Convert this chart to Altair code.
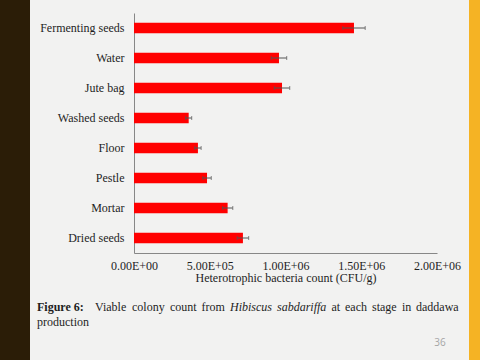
import altair as alt
import pandas as pd

# ---- data ----
stages = ["Fermenting seeds", "Water", "Jute bag", "Washed seeds",
          "Floor", "Pestle", "Mortar", "Dried seeds"]
counts = [1.452e6, 0.957e6, 0.977e6, 0.361e6, 0.422e6, 0.482e6, 0.618e6, 0.719e6]
errors = [0.074e6, 0.051e6, 0.051e6, 0.020e6, 0.021e6, 0.028e6, 0.034e6, 0.038e6]
tick_values = [0, 500000, 1000000, 1500000, 2000000]
tick_labels = ["0.00E+00", "5.00E+05", "1.00E+06", "1.50E+06", "2.00E+06"]
x_title = "Heterotrophic bacteria count (CFU/g)"
caption_line1 = ["Figure 6:", "Viable", "colony", "count", "from", "Hibiscus",
                 "sabdariffa", "at", "each", "stage", "in", "daddawa"]
caption_line2 = ["production"]
page_number = "36"

df = pd.DataFrame({"stage": stages, "count": counts, "err": errors})

SERIF = "Liberation Serif"
BG = "#F2F2F1"
W, H = 303, 240
LEFT, TOP = 134, 13

label_expr = "[" + ",".join(f"'{t}'" for t in tick_labels) + "][round(datum.value/500000)]"

x_enc = alt.X("count:Q",
              scale=alt.Scale(domain=[0, 2000000], nice=False, zero=True),
              axis=alt.Axis(values=tick_values, labelExpr=label_expr, title=x_title,
                            grid=False, ticks=False, tickSize=0, labelPadding=7,
                            titlePadding=1, domainColor="#878787", domainWidth=1,
                            labelFont=SERIF, labelFontSize=12, labelColor="#1e1e1e",
                            titleFont=SERIF, titleFontSize=12, titleFontWeight="normal",
                            titleColor="#1e1e1e", labelFlush=False, labelOverlap=False))
y_enc = alt.Y("stage:N", sort=stages,
              scale=alt.Scale(paddingInner=0, paddingOuter=0),
              axis=alt.Axis(title=None, ticks=False, tickSize=0, labelPadding=10,
                            domainColor="#878787", domainWidth=1, grid=False,
                            labelFont=SERIF, labelFontSize=12, labelColor="#1e1e1e"))

base = alt.Chart(df)
bars = base.mark_bar(color="#FF0000", size=10.5).encode(x=x_enc, y=y_enc)

err = base.transform_calculate(lo="datum.count - datum.err", hi="datum.count + datum.err")
err_rule = err.mark_rule(color="#555555", strokeWidth=1).encode(
    x="lo:Q", x2="hi:Q", y=alt.Y("stage:N", sort=stages))
cap_lo = err.mark_tick(color="#555555", size=4, thickness=1, orient="vertical").encode(
    x="lo:Q", y=alt.Y("stage:N", sort=stages))
cap_hi = err.mark_tick(color="#555555", size=4, thickness=1, orient="vertical").encode(
    x="hi:Q", y=alt.Y("stage:N", sort=stages))

one = alt.Chart(pd.DataFrame({"k": [0]}))

# decorative slide frame
left_strip = one.mark_rect(color="#2B1D07").encode(
    x=alt.value(-LEFT), x2=alt.value(30 - LEFT), y=alt.value(-TOP), y2=alt.value(360 - TOP))
right_strip = one.mark_rect(color="#F5B324").encode(
    x=alt.value(469 - LEFT), x2=alt.value(480 - LEFT), y=alt.value(-TOP), y2=alt.value(360 - TOP))


def txt(s, x, y, weight="normal", style="normal", align="left", font=SERIF, size=12, color="#1e1e1e"):
    return one.mark_text(align=align, baseline="middle", font=font, fontSize=size,
                         fontWeight=weight, fontStyle=style, color=color).encode(
        x=alt.value(x - LEFT), y=alt.value(y - TOP), text=alt.value(s))


# justified first caption line (left edges of words, in page pixels)
line1_x = [37, 95, 132, 170, 201.5, 230, 277, 331.5, 345, 372, 402, 416]
captions = []
for word, xx in zip(caption_line1, line1_x):
    if word.startswith("Figure"):
        captions.append(txt(word, xx, 307, weight="bold"))
    elif word in ("Hibiscus", "sabdariffa"):
        captions.append(txt(word, xx, 307, style="italic"))
    else:
        captions.append(txt(word, xx, 307))
captions.append(txt(caption_line2[0], 37, 322))
page = txt(page_number, 440, 343, align="center", font="Open Sans", size=10, color="#A5A5A5")

chart = alt.layer(left_strip, right_strip, bars, err_rule, cap_lo, cap_hi, *captions, page).properties(
    width=W, height=H,
    padding={"left": LEFT, "top": TOP, "right": 480 - LEFT - W, "bottom": 360 - TOP - H},
    autosize=alt.AutoSizeParams(type="none"),
    background=BG,
).configure_view(stroke=None)

chart.save("out.html", embed_options={"renderer": "svg", "actions": False})
